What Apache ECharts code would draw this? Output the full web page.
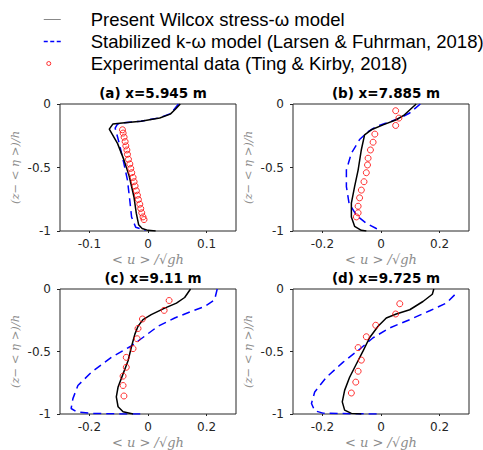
<!DOCTYPE html>
<html>
<head>
<meta charset="utf-8">
<script src="https://cdn.jsdelivr.net/npm/echarts@6/dist/echarts.min.js"></script>
<style>
  html, body { margin: 0; padding: 0; background: #fff; }
  #chart { width: 483px; height: 450px; }
</style>
</head>
<body>
<div id="chart"></div>
<script>
// data: [<u>/sqrt(gh), (z-<eta>)/h]
var panelTitles = ['(a) x=5.945 m', '(b) x=7.885 m', '(c) x=9.11 m', '(d) x=9.725 m'];
var seriesNames = ['Present Wilcox stress-ω model', 'Stabilized k-ω model (Larsen & Fuhrman, 2018)', 'Experimental data (Ting & Kirby, 2018)'];

var xTicksA = [-0.1, 0, 0.1];
var xTicksB = [-0.2, 0, 0.2];
var yTicks = [-1, -0.5, 0];

var blackA = [[0.055, 0], [0.047, -0.04], [0.038, -0.08], [0.02, -0.11], [-0.012, -0.135], [-0.044, -0.15], [-0.06, -0.158], [-0.066, -0.198], [-0.052, -0.31], [-0.041, -0.44], [-0.032, -0.57], [-0.024, -0.73], [-0.02, -0.86], [-0.016, -0.95], [-0.01, -0.98], [0, -0.995], [0.013, -1]];
var blueA = [[0.052, 0], [0.045, -0.04], [0.036, -0.08], [0.018, -0.11], [-0.012, -0.135], [-0.044, -0.15], [-0.052, -0.158], [-0.056, -0.19], [-0.049, -0.31], [-0.041, -0.47], [-0.035, -0.6], [-0.031, -0.76], [-0.028, -0.89], [-0.021, -0.97], [-0.004, -0.995]];
var redA = [[-0.0435, -0.203], [-0.0424, -0.229], [-0.0407, -0.261], [-0.039, -0.296], [-0.0378, -0.33], [-0.036, -0.362], [-0.035, -0.396], [-0.0333, -0.435], [-0.031, -0.472], [-0.0294, -0.507], [-0.0277, -0.541], [-0.0254, -0.578], [-0.0237, -0.612], [-0.022, -0.646], [-0.0198, -0.683], [-0.018, -0.718], [-0.0164, -0.752], [-0.014, -0.789], [-0.0124, -0.823], [-0.0107, -0.857], [-0.0085, -0.889], [-0.0068, -0.91]];

var blackB = [[0.12, 0], [0.08, -0.085], [0.052, -0.124], [0.007, -0.164], [-0.033, -0.203], [-0.056, -0.243], [-0.067, -0.36], [-0.078, -0.52], [-0.09, -0.65], [-0.101, -0.78], [-0.101, -0.89], [-0.09, -0.963], [-0.067, -0.995], [-0.05, -1]];
var blueB = [[0.134, 0], [0.098, -0.071], [0.064, -0.111], [0.018, -0.15], [-0.016, -0.177], [-0.044, -0.217], [-0.073, -0.28], [-0.101, -0.388], [-0.118, -0.52], [-0.118, -0.65], [-0.109, -0.78], [-0.084, -0.876], [-0.05, -0.94], [-0.016, -0.98], [0.001, -0.995]];
var redB = [[0.05, -0.053], [0.061, -0.111], [0.05, -0.169], [-0.021, -0.237], [-0.027, -0.301], [-0.036, -0.362], [-0.044, -0.427], [-0.046, -0.48], [-0.05, -0.541], [-0.058, -0.612], [-0.067, -0.678], [-0.073, -0.739], [-0.078, -0.805], [-0.078, -0.857], [-0.084, -0.889]];

var blackC = [[0.145, 0], [0.125, -0.068], [0.097, -0.113], [0.057, -0.153], [0.011, -0.205], [-0.017, -0.245], [-0.034, -0.298], [-0.045, -0.363], [-0.057, -0.468], [-0.068, -0.574], [-0.085, -0.679], [-0.102, -0.784], [-0.108, -0.863], [-0.102, -0.942], [-0.085, -0.982], [-0.051, -1]];
var blueC = [[0.236, 0], [0.227, -0.087], [0.193, -0.14], [0.148, -0.179], [0.091, -0.232], [0.034, -0.298], [-0.011, -0.377], [-0.057, -0.456], [-0.125, -0.547], [-0.193, -0.666], [-0.239, -0.772], [-0.256, -0.877], [-0.262, -0.956], [-0.244, -0.982], [-0.193, -0.995], [-0.08, -1], [-0.011, -1]];
var redC = [[0.072, -0.092], [0.055, -0.171], [-0.019, -0.24], [-0.034, -0.316], [-0.037, -0.398], [-0.051, -0.477], [-0.074, -0.547], [-0.074, -0.626], [-0.085, -0.697], [-0.085, -0.772], [-0.082, -0.856]];

var blackD = [[0.18, 0], [0.175, -0.042], [0.143, -0.1], [0.098, -0.166], [0.052, -0.2], [0.018, -0.232], [-0.01, -0.298], [-0.039, -0.39], [-0.061, -0.495], [-0.084, -0.6], [-0.107, -0.706], [-0.124, -0.811], [-0.132, -0.903], [-0.124, -0.969], [-0.101, -0.995], [-0.067, -1]];
var blueD = [[0.251, -0.047], [0.223, -0.113], [0.166, -0.174], [0.098, -0.245], [0.03, -0.311], [-0.027, -0.39], [-0.073, -0.482], [-0.13, -0.587], [-0.186, -0.706], [-0.226, -0.824], [-0.237, -0.916], [-0.226, -0.974], [-0.198, -0.993], [-0.107, -0.998], [-0.004, -1]];
var redD = [[0.064, -0.118], [0.05, -0.2], [-0.018, -0.29], [-0.05, -0.382], [-0.078, -0.469], [-0.067, -0.569], [-0.078, -0.658], [-0.086, -0.745], [-0.101, -0.832]];

(function() {
  var ink = '#262626';
  var muted = '#8c8c8c';
  var sans = '"DejaVu Sans", sans-serif';

  var panels = [
    { black: blackA, blue: blueA, red: redA, ticks: xTicksA, min: -0.15, max: 0.15, left: 60, top: 104 },
    { black: blackB, blue: blueB, red: redB, ticks: xTicksB, min: -0.3, max: 0.3, left: 293, top: 104 },
    { black: blackC, blue: blueC, red: redC, ticks: xTicksB, min: -0.3, max: 0.3, left: 60, top: 289 },
    { black: blackD, blue: blueD, red: redD, ticks: xTicksB, min: -0.3, max: 0.3, left: 293, top: 289 }
  ];
  var W = 176, H = 127;

  var grids = [], xAxes = [], yAxes = [], titles = [], series = [];
  panels.forEach(function(p, i) {
    grids.push({ left: p.left, top: p.top, width: W, height: H, show: true, borderColor: ink, borderWidth: 1 });
    titles.push({
      text: panelTitles[i], left: p.left + W / 2, top: p.top - 23, textAlign: 'center',
      textStyle: { fontSize: 13.5, fontWeight: 'bold', color: '#000', fontFamily: sans }
    });
    xAxes.push({
      type: 'value', gridIndex: i, min: p.min, max: p.max,
      name: '< u > /√gh', nameLocation: 'middle', nameGap: 22,
      nameTextStyle: { fontFamily: '"DejaVu Serif", serif', fontStyle: 'italic', fontSize: 13, color: muted },
      axisLine: { show: false, onZero: false },
      axisTick: { show: true, length: 2, customValues: p.ticks, lineStyle: { color: ink } },
      axisLabel: { customValues: p.ticks, margin: 7, fontSize: 12, color: ink, fontFamily: sans },
      splitLine: { show: false }
    });
    yAxes.push({
      type: 'value', gridIndex: i, min: -1, max: 0,
      name: '(z− < η >)/h', nameLocation: 'middle', nameGap: 39,
      nameTextStyle: { fontFamily: '"DejaVu Serif", serif', fontStyle: 'italic', fontSize: 11.5, color: muted },
      axisLine: { show: false, onZero: false },
      axisTick: { show: true, length: 3, customValues: yTicks, lineStyle: { color: ink } },
      axisLabel: { customValues: yTicks, margin: 9, fontSize: 12, color: ink, fontFamily: sans },
      splitLine: { show: false }
    });
    series.push({
      name: seriesNames[0], type: 'line', xAxisIndex: i, yAxisIndex: i, data: p.black,
      symbol: 'none', smooth: false, lineStyle: { color: '#000', width: 1.5 }, itemStyle: { color: '#000' }, z: 3
    });
    series.push({
      name: seriesNames[1], type: 'line', xAxisIndex: i, yAxisIndex: i, data: p.blue,
      symbol: 'none', smooth: false, lineStyle: { color: '#0000ff', width: 1.5, type: [8, 5] }, itemStyle: { color: '#0000ff' }, z: 2
    });
    series.push({
      name: seriesNames[2], type: 'scatter', xAxisIndex: i, yAxisIndex: i, data: p.red,
      symbol: 'circle', symbolSize: 6,
      itemStyle: { color: 'transparent', borderColor: '#ff0000', borderWidth: 1 }, z: 4
    });
  });

  var chart = echarts.init(document.getElementById('chart'), null, { renderer: 'svg' });
  chart.setOption({
    animation: false,
    backgroundColor: '#fff',
    title: titles,
    legend: {
      orient: 'vertical', left: 38, top: 5, itemWidth: 17, itemHeight: 10, itemGap: 3,
      formatter: function(name) { return '{g|}' + name; },
      textStyle: {
        fontSize: 18.5, color: '#000', fontFamily: '"Liberation Sans", Arial, sans-serif',
        rich: { g: { width: 25 } }
      },
      data: [
        { name: seriesNames[0], icon: 'path://M0,0M17,10M0,5L17,5', itemStyle: { color: 'transparent', borderColor: '#888', borderWidth: 1 } },
        { name: seriesNames[1], icon: 'path://M0,0M17,10M0,5L4,5M6.5,5L10.5,5M13,5L17,5', itemStyle: { color: 'transparent', borderColor: '#0000ff', borderWidth: 1.5 } },
        { name: seriesNames[2], icon: 'path://M0,0M17,10M3,5a2,2 0 1,0 4,0a2,2 0 1,0 -4,0', itemStyle: { color: 'transparent', borderColor: '#ff0000', borderWidth: 1 } }
      ]
    },
    grid: grids,
    xAxis: xAxes,
    yAxis: yAxes,
    series: series
  });
  window.addEventListener('resize', function() { chart.resize(); });
})();
</script>
</body>
</html>
